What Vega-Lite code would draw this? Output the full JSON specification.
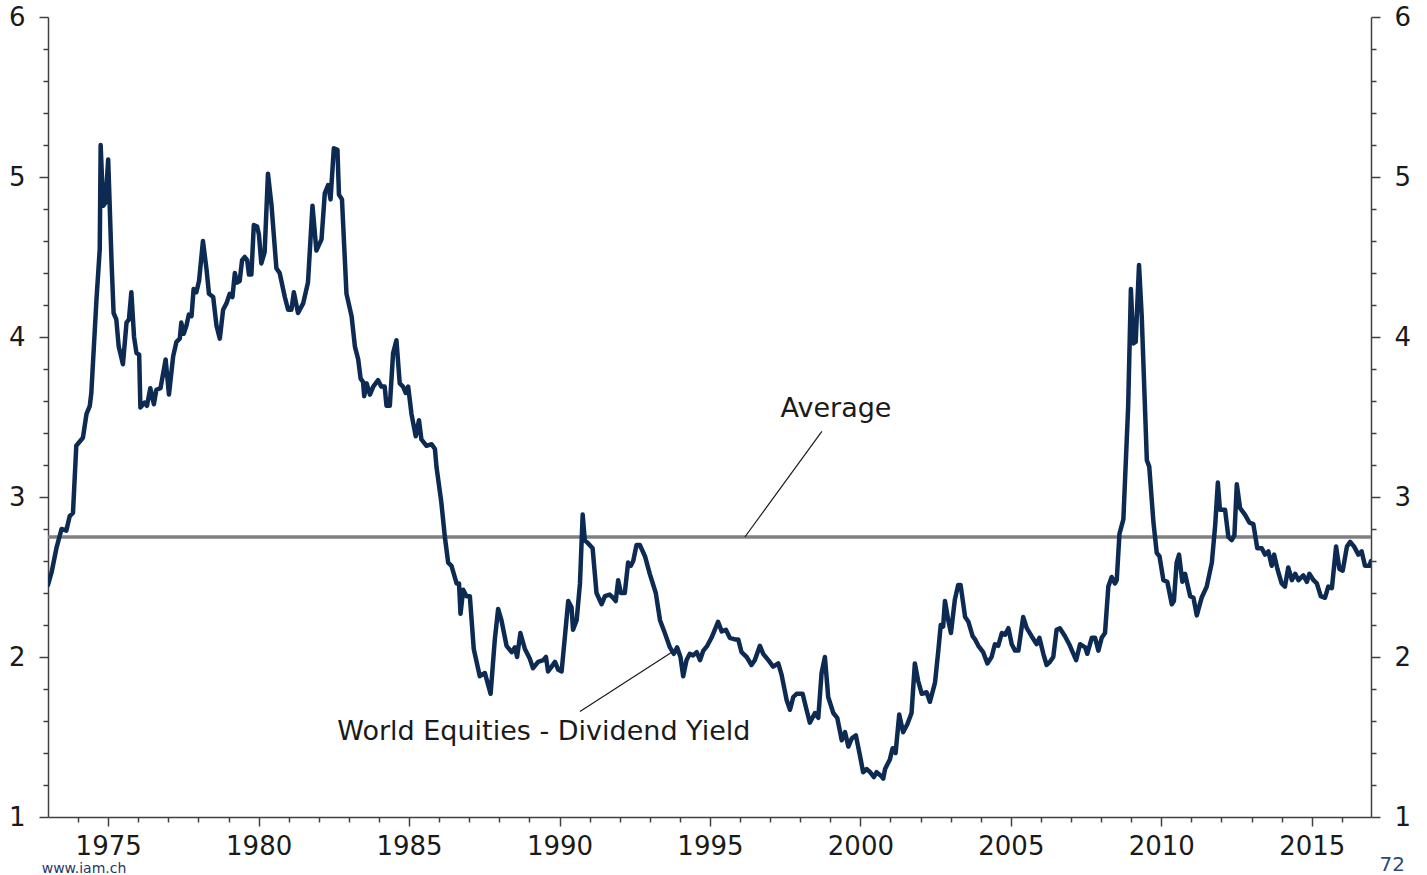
{
  "$schema": "https://vega.github.io/schema/vega-lite/v6.json",
  "width": 1323,
  "height": 800,
  "autosize": {"type": "none"},
  "padding": {"left": 48, "top": 17, "right": 56, "bottom": 58},
  "background": "white",
  "config": {
    "view": {"stroke": null},
    "axis": {
      "grid": false,
      "domainColor": "#404040",
      "domainWidth": 1.5,
      "tickColor": "#404040",
      "tickWidth": 1.5,
      "labelColor": "#1a1a1a",
      "labelFont": "DejaVu Sans",
      "labelFontSize": 26,
      "labelOverlap": false,
      "title": null
    }
  },
  "datasets": {
    "avg": [{"v": 2.75}],
    "leaders": [
      {"t": 1996.16, "v": 2.75, "t2": 1998.72, "v2": 3.41},
      {"t": 1990.68, "v": 1.66, "t2": 1993.73, "v2": 2.03}
    ],
    "notes": [
      {"t": 1999.19, "v": 3.55, "label": "Average"},
      {"t": 1989.48, "v": 1.53, "label": "World Equities - Dividend Yield"}
    ],
    "footer": [
      {"t": 1972.79, "v": 0.675, "label": "www.iam.ch", "kind": "site"},
      {"t": 2017.25, "v": 0.70, "label": "72", "kind": "page"}
    ],
    "dy": [
      {"t":1973.00,"v":2.45},{"t":1973.12,"v":2.53},{"t":1973.28,"v":2.68},{"t":1973.45,"v":2.80},{"t":1973.61,"v":2.79},{"t":1973.72,"v":2.88},{"t":1973.83,"v":2.90},{"t":1973.94,"v":3.32},{"t":1974.16,"v":3.37},{"t":1974.28,"v":3.52},{"t":1974.39,"v":3.57},{"t":1974.44,"v":3.65},{"t":1974.61,"v":4.23},{"t":1974.72,"v":4.55},{"t":1974.75,"v":5.20},{"t":1974.83,"v":4.82},{"t":1974.91,"v":4.84},{"t":1975.00,"v":5.11},{"t":1975.11,"v":4.48},{"t":1975.18,"v":4.15},{"t":1975.27,"v":4.11},{"t":1975.35,"v":3.94},{"t":1975.49,"v":3.83},{"t":1975.61,"v":4.09},{"t":1975.69,"v":4.11},{"t":1975.77,"v":4.28},{"t":1975.86,"v":4.00},{"t":1975.94,"v":3.90},{"t":1976.03,"v":3.89},{"t":1976.07,"v":3.56},{"t":1976.21,"v":3.59},{"t":1976.29,"v":3.57},{"t":1976.40,"v":3.68},{"t":1976.52,"v":3.58},{"t":1976.60,"v":3.67},{"t":1976.74,"v":3.68},{"t":1976.91,"v":3.86},{"t":1977.02,"v":3.64},{"t":1977.16,"v":3.88},{"t":1977.27,"v":3.97},{"t":1977.38,"v":3.99},{"t":1977.43,"v":4.09},{"t":1977.51,"v":4.02},{"t":1977.60,"v":4.07},{"t":1977.68,"v":4.14},{"t":1977.77,"v":4.13},{"t":1977.84,"v":4.30},{"t":1977.93,"v":4.28},{"t":1978.02,"v":4.35},{"t":1978.15,"v":4.60},{"t":1978.27,"v":4.42},{"t":1978.35,"v":4.27},{"t":1978.49,"v":4.25},{"t":1978.60,"v":4.07},{"t":1978.71,"v":3.99},{"t":1978.82,"v":4.17},{"t":1978.93,"v":4.21},{"t":1979.04,"v":4.27},{"t":1979.13,"v":4.25},{"t":1979.21,"v":4.40},{"t":1979.28,"v":4.34},{"t":1979.37,"v":4.35},{"t":1979.45,"v":4.48},{"t":1979.54,"v":4.50},{"t":1979.62,"v":4.48},{"t":1979.68,"v":4.39},{"t":1979.76,"v":4.39},{"t":1979.84,"v":4.70},{"t":1979.95,"v":4.69},{"t":1980.01,"v":4.64},{"t":1980.09,"v":4.46},{"t":1980.20,"v":4.53},{"t":1980.31,"v":5.02},{"t":1980.43,"v":4.82},{"t":1980.59,"v":4.43},{"t":1980.70,"v":4.40},{"t":1980.87,"v":4.25},{"t":1980.98,"v":4.17},{"t":1981.09,"v":4.17},{"t":1981.17,"v":4.28},{"t":1981.31,"v":4.15},{"t":1981.48,"v":4.21},{"t":1981.64,"v":4.34},{"t":1981.79,"v":4.82},{"t":1981.92,"v":4.54},{"t":1982.09,"v":4.61},{"t":1982.20,"v":4.90},{"t":1982.31,"v":4.95},{"t":1982.39,"v":4.86},{"t":1982.50,"v":5.18},{"t":1982.62,"v":5.17},{"t":1982.67,"v":4.89},{"t":1982.77,"v":4.86},{"t":1982.92,"v":4.27},{"t":1983.09,"v":4.13},{"t":1983.20,"v":3.94},{"t":1983.31,"v":3.86},{"t":1983.39,"v":3.74},{"t":1983.47,"v":3.72},{"t":1983.51,"v":3.63},{"t":1983.59,"v":3.71},{"t":1983.70,"v":3.64},{"t":1983.81,"v":3.69},{"t":1983.97,"v":3.73},{"t":1984.08,"v":3.69},{"t":1984.19,"v":3.69},{"t":1984.25,"v":3.57},{"t":1984.36,"v":3.57},{"t":1984.47,"v":3.90},{"t":1984.58,"v":3.98},{"t":1984.69,"v":3.71},{"t":1984.80,"v":3.69},{"t":1984.89,"v":3.65},{"t":1984.97,"v":3.69},{"t":1985.08,"v":3.52},{"t":1985.22,"v":3.38},{"t":1985.33,"v":3.48},{"t":1985.41,"v":3.36},{"t":1985.58,"v":3.32},{"t":1985.75,"v":3.33},{"t":1985.86,"v":3.30},{"t":1985.91,"v":3.19},{"t":1986.07,"v":2.97},{"t":1986.19,"v":2.75},{"t":1986.30,"v":2.59},{"t":1986.41,"v":2.57},{"t":1986.58,"v":2.46},{"t":1986.66,"v":2.46},{"t":1986.71,"v":2.27},{"t":1986.80,"v":2.42},{"t":1986.91,"v":2.38},{"t":1987.02,"v":2.38},{"t":1987.15,"v":2.05},{"t":1987.35,"v":1.88},{"t":1987.52,"v":1.90},{"t":1987.71,"v":1.77},{"t":1987.85,"v":2.11},{"t":1987.96,"v":2.30},{"t":1988.07,"v":2.23},{"t":1988.24,"v":2.07},{"t":1988.41,"v":2.03},{"t":1988.52,"v":2.06},{"t":1988.59,"v":2.00},{"t":1988.70,"v":2.15},{"t":1988.85,"v":2.05},{"t":1989.01,"v":1.99},{"t":1989.12,"v":1.93},{"t":1989.29,"v":1.97},{"t":1989.46,"v":1.98},{"t":1989.55,"v":2.00},{"t":1989.62,"v":1.91},{"t":1989.74,"v":1.94},{"t":1989.85,"v":1.97},{"t":1989.96,"v":1.92},{"t":1990.07,"v":1.91},{"t":1990.18,"v":2.13},{"t":1990.29,"v":2.35},{"t":1990.40,"v":2.31},{"t":1990.45,"v":2.17},{"t":1990.57,"v":2.23},{"t":1990.68,"v":2.46},{"t":1990.77,"v":2.89},{"t":1990.84,"v":2.73},{"t":1990.95,"v":2.71},{"t":1991.10,"v":2.68},{"t":1991.23,"v":2.40},{"t":1991.40,"v":2.33},{"t":1991.51,"v":2.38},{"t":1991.67,"v":2.39},{"t":1991.78,"v":2.37},{"t":1991.87,"v":2.35},{"t":1991.95,"v":2.48},{"t":1992.04,"v":2.40},{"t":1992.17,"v":2.40},{"t":1992.28,"v":2.59},{"t":1992.37,"v":2.57},{"t":1992.45,"v":2.60},{"t":1992.56,"v":2.70},{"t":1992.67,"v":2.70},{"t":1992.84,"v":2.63},{"t":1993.00,"v":2.52},{"t":1993.20,"v":2.40},{"t":1993.34,"v":2.23},{"t":1993.50,"v":2.15},{"t":1993.67,"v":2.06},{"t":1993.80,"v":2.02},{"t":1993.91,"v":2.06},{"t":1994.02,"v":2.00},{"t":1994.11,"v":1.88},{"t":1994.22,"v":1.98},{"t":1994.33,"v":2.02},{"t":1994.44,"v":2.01},{"t":1994.56,"v":2.03},{"t":1994.67,"v":1.98},{"t":1994.78,"v":2.04},{"t":1994.91,"v":2.07},{"t":1995.05,"v":2.12},{"t":1995.16,"v":2.17},{"t":1995.27,"v":2.22},{"t":1995.39,"v":2.16},{"t":1995.53,"v":2.17},{"t":1995.66,"v":2.12},{"t":1995.83,"v":2.11},{"t":1995.94,"v":2.11},{"t":1996.05,"v":2.03},{"t":1996.22,"v":2.00},{"t":1996.38,"v":1.95},{"t":1996.49,"v":1.98},{"t":1996.66,"v":2.07},{"t":1996.77,"v":2.02},{"t":1996.94,"v":1.98},{"t":1997.10,"v":1.94},{"t":1997.27,"v":1.96},{"t":1997.38,"v":1.89},{"t":1997.55,"v":1.73},{"t":1997.66,"v":1.67},{"t":1997.77,"v":1.75},{"t":1997.88,"v":1.77},{"t":1998.08,"v":1.77},{"t":1998.21,"v":1.67},{"t":1998.32,"v":1.59},{"t":1998.49,"v":1.65},{"t":1998.60,"v":1.62},{"t":1998.71,"v":1.90},{"t":1998.82,"v":2.00},{"t":1998.93,"v":1.75},{"t":1999.10,"v":1.65},{"t":1999.23,"v":1.62},{"t":1999.38,"v":1.48},{"t":1999.49,"v":1.53},{"t":1999.60,"v":1.44},{"t":1999.71,"v":1.49},{"t":1999.85,"v":1.51},{"t":1999.99,"v":1.38},{"t":2000.09,"v":1.28},{"t":2000.21,"v":1.30},{"t":2000.32,"v":1.28},{"t":2000.45,"v":1.25},{"t":2000.54,"v":1.28},{"t":2000.67,"v":1.26},{"t":2000.76,"v":1.24},{"t":2000.82,"v":1.30},{"t":2000.98,"v":1.36},{"t":2001.07,"v":1.43},{"t":2001.17,"v":1.40},{"t":2001.29,"v":1.64},{"t":2001.42,"v":1.53},{"t":2001.56,"v":1.58},{"t":2001.70,"v":1.65},{"t":2001.81,"v":1.96},{"t":2001.92,"v":1.85},{"t":2002.04,"v":1.77},{"t":2002.20,"v":1.78},{"t":2002.31,"v":1.72},{"t":2002.48,"v":1.84},{"t":2002.59,"v":2.04},{"t":2002.67,"v":2.20},{"t":2002.75,"v":2.19},{"t":2002.81,"v":2.35},{"t":2002.92,"v":2.23},{"t":2003.01,"v":2.15},{"t":2003.14,"v":2.36},{"t":2003.25,"v":2.45},{"t":2003.33,"v":2.45},{"t":2003.48,"v":2.25},{"t":2003.59,"v":2.22},{"t":2003.73,"v":2.13},{"t":2003.81,"v":2.11},{"t":2003.92,"v":2.07},{"t":2004.08,"v":2.03},{"t":2004.22,"v":1.96},{"t":2004.36,"v":2.00},{"t":2004.47,"v":2.08},{"t":2004.58,"v":2.07},{"t":2004.70,"v":2.15},{"t":2004.81,"v":2.14},{"t":2004.92,"v":2.18},{"t":2005.03,"v":2.08},{"t":2005.14,"v":2.04},{"t":2005.25,"v":2.04},{"t":2005.41,"v":2.25},{"t":2005.53,"v":2.18},{"t":2005.69,"v":2.13},{"t":2005.86,"v":2.08},{"t":2005.95,"v":2.12},{"t":2006.08,"v":2.02},{"t":2006.19,"v":1.95},{"t":2006.30,"v":1.97},{"t":2006.41,"v":2.00},{"t":2006.52,"v":2.17},{"t":2006.63,"v":2.18},{"t":2006.80,"v":2.13},{"t":2006.94,"v":2.08},{"t":2007.08,"v":2.02},{"t":2007.17,"v":1.98},{"t":2007.30,"v":2.08},{"t":2007.47,"v":2.06},{"t":2007.54,"v":2.02},{"t":2007.69,"v":2.12},{"t":2007.80,"v":2.12},{"t":2007.91,"v":2.04},{"t":2008.02,"v":2.12},{"t":2008.13,"v":2.15},{"t":2008.24,"v":2.44},{"t":2008.35,"v":2.50},{"t":2008.46,"v":2.46},{"t":2008.52,"v":2.48},{"t":2008.61,"v":2.77},{"t":2008.74,"v":2.86},{"t":2008.90,"v":3.57},{"t":2008.99,"v":4.30},{"t":2009.07,"v":3.96},{"t":2009.15,"v":3.97},{"t":2009.20,"v":4.19},{"t":2009.26,"v":4.45},{"t":2009.35,"v":4.13},{"t":2009.52,"v":3.23},{"t":2009.60,"v":3.19},{"t":2009.74,"v":2.84},{"t":2009.85,"v":2.65},{"t":2009.94,"v":2.63},{"t":2010.07,"v":2.48},{"t":2010.20,"v":2.47},{"t":2010.35,"v":2.33},{"t":2010.42,"v":2.35},{"t":2010.51,"v":2.59},{"t":2010.59,"v":2.64},{"t":2010.70,"v":2.47},{"t":2010.79,"v":2.52},{"t":2010.96,"v":2.38},{"t":2011.07,"v":2.37},{"t":2011.18,"v":2.26},{"t":2011.34,"v":2.37},{"t":2011.51,"v":2.44},{"t":2011.68,"v":2.59},{"t":2011.79,"v":2.82},{"t":2011.88,"v":3.09},{"t":2011.95,"v":2.92},{"t":2012.12,"v":2.92},{"t":2012.23,"v":2.75},{"t":2012.34,"v":2.73},{"t":2012.43,"v":2.76},{"t":2012.51,"v":3.08},{"t":2012.62,"v":2.93},{"t":2012.78,"v":2.89},{"t":2012.93,"v":2.84},{"t":2013.06,"v":2.83},{"t":2013.19,"v":2.68},{"t":2013.34,"v":2.68},{"t":2013.45,"v":2.64},{"t":2013.56,"v":2.66},{"t":2013.67,"v":2.57},{"t":2013.75,"v":2.64},{"t":2013.86,"v":2.55},{"t":2014.00,"v":2.46},{"t":2014.11,"v":2.44},{"t":2014.22,"v":2.56},{"t":2014.34,"v":2.48},{"t":2014.45,"v":2.52},{"t":2014.56,"v":2.48},{"t":2014.72,"v":2.51},{"t":2014.84,"v":2.47},{"t":2014.92,"v":2.52},{"t":2015.06,"v":2.48},{"t":2015.17,"v":2.46},{"t":2015.30,"v":2.38},{"t":2015.44,"v":2.37},{"t":2015.55,"v":2.44},{"t":2015.67,"v":2.43},{"t":2015.81,"v":2.69},{"t":2015.92,"v":2.55},{"t":2016.03,"v":2.54},{"t":2016.17,"v":2.69},{"t":2016.28,"v":2.72},{"t":2016.41,"v":2.69},{"t":2016.55,"v":2.64},{"t":2016.66,"v":2.66},{"t":2016.77,"v":2.57},{"t":2016.92,"v":2.57},{"t":2016.97,"v":2.60}
    ]
  },
  "layer": [
    {
      "data": {"name": "avg"},
      "mark": {"type": "rule", "color": "#808080", "strokeWidth": 3.5},
      "encoding": {
        "y": {
          "field": "v", "type": "quantitative",
          "scale": {"domain": [1, 6], "nice": false, "zero": false},
          "axis": {
            "orient": "right",
            "values": [1,1.2,1.4,1.6,1.8,2,2.2,2.4,2.6,2.8,3,3.2,3.4,3.6,3.8,4,4.2,4.4,4.6,4.8,5,5.2,5.4,5.6,5.8,6],
            "labelExpr": "abs(datum.value - round(datum.value)) < 0.01 ? format(datum.value, 'd') : ''",
            "tickSize": {"condition": {"test": "abs(datum.value - round(datum.value)) < 0.01", "value": 9}, "value": 5},
            "labelPadding": 14,
            "labelOverlap": false,
            "labelFlush": false,
            "title": null
          }
        }
      }
    },
    {
      "data": {"name": "dy"},
      "mark": {"type": "line", "color": "#0d2b52", "strokeWidth": 4.5, "strokeJoin": "round", "strokeCap": "round", "clip": true},
      "encoding": {
        "x": {
          "field": "t", "type": "quantitative",
          "scale": {"domain": [1973, 2016.97], "nice": false, "zero": false},
          "axis": {
            "values": [1974,1975,1976,1977,1978,1979,1980,1981,1982,1983,1984,1985,1986,1987,1988,1989,1990,1991,1992,1993,1994,1995,1996,1997,1998,1999,2000,2001,2002,2003,2004,2005,2006,2007,2008,2009,2010,2011,2012,2013,2014,2015,2016],
            "labelExpr": "datum.value % 5 === 0 ? format(datum.value, 'd') : ''",
            "tickSize": {"condition": {"test": "datum.value % 5 === 0", "value": 9}, "value": 5},
            "labelPadding": 7,
            "labelOverlap": false,
            "labelFlush": false,
            "title": null
          }
        },
        "y": {
          "field": "v", "type": "quantitative",
          "scale": {"domain": [1, 6], "nice": false, "zero": false},
          "axis": {
            "orient": "left",
            "values": [1,1.2,1.4,1.6,1.8,2,2.2,2.4,2.6,2.8,3,3.2,3.4,3.6,3.8,4,4.2,4.4,4.6,4.8,5,5.2,5.4,5.6,5.8,6],
            "labelExpr": "abs(datum.value - round(datum.value)) < 0.01 ? format(datum.value, 'd') : ''",
            "tickSize": {"condition": {"test": "abs(datum.value - round(datum.value)) < 0.01", "value": 9}, "value": 5},
            "labelPadding": 14,
            "labelOverlap": false,
            "labelFlush": false,
            "title": null
          }
        }
      }
    },
    {
      "data": {"name": "leaders"},
      "mark": {"type": "rule", "color": "#1a1a1a", "strokeWidth": 1.2},
      "encoding": {
        "x": {"field": "t", "type": "quantitative", "axis": null},
        "x2": {"field": "t2"},
        "y": {"field": "v", "type": "quantitative", "axis": null},
        "y2": {"field": "v2"}
      }
    },
    {
      "data": {"name": "notes"},
      "mark": {"type": "text", "font": "DejaVu Sans", "fontSize": 27, "color": "#1a1a1a", "align": "center", "baseline": "middle"},
      "encoding": {
        "x": {"field": "t", "type": "quantitative", "axis": null},
        "y": {"field": "v", "type": "quantitative", "axis": null},
        "text": {"field": "label"}
      }
    },
    {
      "data": {"name": "footer"},
      "transform": [{"filter": "datum.kind === 'site'"}],
      "mark": {"type": "text", "font": "DejaVu Sans", "fontSize": 14, "color": "#1f3864", "align": "left", "baseline": "middle"},
      "encoding": {
        "x": {"field": "t", "type": "quantitative", "axis": null},
        "y": {"field": "v", "type": "quantitative", "axis": null},
        "text": {"field": "label"}
      }
    },
    {
      "data": {"name": "footer"},
      "transform": [{"filter": "datum.kind === 'page'"}],
      "mark": {"type": "text", "font": "DejaVu Sans", "fontSize": 20, "color": "#2a4a7a", "align": "left", "baseline": "middle"},
      "encoding": {
        "x": {"field": "t", "type": "quantitative", "axis": null},
        "y": {"field": "v", "type": "quantitative", "axis": null},
        "text": {"field": "label"}
      }
    }
  ],
  "resolve": {"axis": {"x": "independent", "y": "independent"}}
}
